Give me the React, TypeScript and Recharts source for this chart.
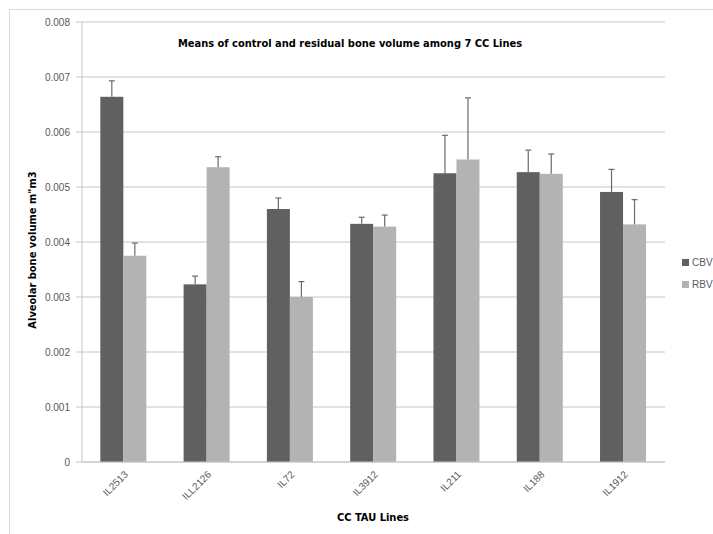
import { BarChart, Bar, XAxis, YAxis, CartesianGrid } from "recharts";

const lines = ["IL2513", "ILL2126", "IL72", "IL3912", "IL211", "IL188", "IL1912"];
const cbv = [0.00664, 0.00323, 0.0046, 0.00433, 0.00525, 0.00527, 0.00491];
const cbvErr = [0.00029, 0.00015, 0.0002, 0.00012, 0.00069, 0.0004, 0.00041];
const rbv = [0.00375, 0.00536, 0.003, 0.00428, 0.0055, 0.00524, 0.00432];
const rbvErr = [0.00023, 0.00019, 0.00028, 0.00021, 0.00112, 0.00036, 0.00045];
const yTicks = [0, 0.001, 0.002, 0.003, 0.004, 0.005, 0.006, 0.007, 0.008];
const boundaryTicks = [0, 1, 2, 3, 4, 5, 6, 7];

const data = lines.map((name, i) => ({
  name,
  CBV: cbv[i],
  CBVerr: cbvErr[i],
  RBV: rbv[i],
  RBVerr: rbvErr[i],
}));

const DARK = "#606060";
const LIGHT = "#b3b3b3";
const AXIS = "#c6c6c6";
const TXT = "#595959";
const FONT = "'Liberation Sans', Arial, sans-serif";
const TITLE_FONT = "'Liberation Sans Narrow', 'DejaVu Sans Condensed', sans-serif";

// bar with an upper-only error whisker, scaled from the bar's own geometry
const barWithError = (key: string) => (props: any) => {
  const { x, y, width, height, fill, payload } = props;
  const val = payload[key];
  const err = payload[key + "err"];
  const pxPerUnit = val ? height / val : 0;
  const top = y - err * pxPerUnit;
  const cx = x + width / 2;
  return (
    <g>
      <rect x={x} y={y} width={width} height={height} fill={fill} />
      <line x1={cx} x2={cx} y1={y} y2={top} stroke="#6a6a6a" strokeWidth={1.2} />
      <line x1={cx - 3} x2={cx + 3} y1={top} y2={top} stroke="#6a6a6a" strokeWidth={1.2} />
    </g>
  );
};

const legendItems = [
  { name: "CBV", color: DARK },
  { name: "RBV", color: LIGHT },
];

const titleStyle = {
  position: "absolute" as const,
  whiteSpace: "nowrap" as const,
  fontFamily: TITLE_FONT,
  fontWeight: "bold" as const,
  fontSize: 11,
  color: "#000",
};

export default function App() {
  return (
    <div style={{ position: "absolute", left: 0, top: 0, width: 713, height: 534, background: "#fff", overflow: "hidden" }}>
      <div
        style={{
          position: "absolute",
          left: 9,
          top: 9,
          width: 720,
          height: 540,
          borderTop: "1px solid #d9d9d9",
          borderLeft: "1px solid #d9d9d9",
        }}
      />
      <BarChart
        width={713}
        height={534}
        data={data}
        margin={{ top: 22, right: 48, left: 10, bottom: 12 }}
        barCategoryGap="22%"
        barGap={0}
      >
        <CartesianGrid vertical={false} stroke={AXIS} />
        <XAxis
          xAxisId="b"
          type="number"
          domain={[0, 7]}
          ticks={boundaryTicks}
          tick={false}
          axisLine={false}
          tickLine={{ stroke: AXIS }}
          tickSize={5}
          height={0}
        />
        <XAxis
          dataKey="name"
          interval={0}
          axisLine={{ stroke: AXIS }}
          tickLine={false}
          tickSize={6}
          angle={-45}
          textAnchor="end"
          height={60}
          tick={{ fill: TXT, fontSize: 10, fontFamily: FONT }}
        />
        <YAxis
          domain={[0, 0.008]}
          ticks={yTicks}
          width={72}
          axisLine={{ stroke: AXIS }}
          tickLine={{ stroke: AXIS }}
          tickSize={6}
          tickMargin={6}
          tickFormatter={(v: number) => (v === 0 ? "0" : v.toFixed(3))}
          tick={{ fill: TXT, fontSize: 10, fontFamily: FONT }}
        />
        <Bar dataKey="CBV" fill={DARK} isAnimationActive={false} shape={barWithError("CBV")} />
        <Bar dataKey="RBV" fill={LIGHT} isAnimationActive={false} shape={barWithError("RBV")} />
      </BarChart>
      <div style={{ position: "absolute", left: 682, top: 251, fontFamily: FONT, fontSize: 10, color: TXT }}>
        {legendItems.map((s) => (
          <div key={s.name} style={{ display: "flex", alignItems: "center", height: 22 }}>
            <span style={{ width: 7, height: 7, background: s.color, marginRight: 3, display: "inline-block" }} />
            {s.name}
          </div>
        ))}
      </div>
      <div style={{ ...titleStyle, left: 350, top: 43, transform: "translate(-50%, -50%)" }}>
        Means of control and residual bone volume among 7 CC Lines
      </div>
      <div style={{ ...titleStyle, left: 32, top: 250, transform: "translate(-50%, -50%) rotate(-90deg)" }}>
        Alveolar bone volume m"m3
      </div>
      <div style={{ ...titleStyle, left: 373, top: 517, transform: "translate(-50%, -50%)" }}>
        CC TAU Lines
      </div>
    </div>
  );
}
